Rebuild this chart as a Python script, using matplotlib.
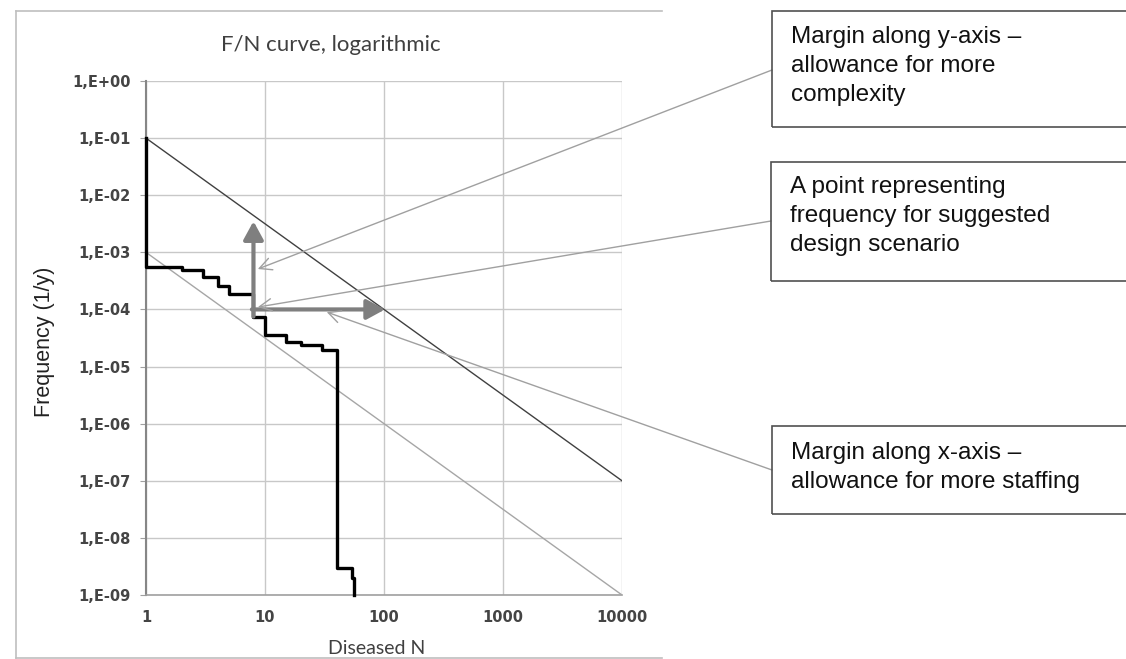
import matplotlib
matplotlib.use("Agg")
import matplotlib.pyplot as plt
from matplotlib.lines import Line2D
from matplotlib.patches import Rectangle
from matplotlib.ticker import FixedLocator, FixedFormatter, NullLocator

# step curve (F/N), drawn as steps-post
step_n = [1, 1, 2, 3, 4, 5, 8, 10, 15, 20, 30, 40, 53.5, 56]
step_f = [1e-1, 5.5e-4, 4.9e-4, 3.7e-4, 2.6e-4, 1.9e-4, 7.4e-5, 3.6e-5,
          2.7e-5, 2.4e-5, 1.95e-5, 3e-9, 2e-9, 1e-9]

# criteria lines
upper_n = [1, 10000]
upper_f = [1e-1, 1e-7]
lower_n = [1, 10000]
lower_f = [1e-3, 1e-9]

# design point and margin arrows
point_n, point_f = 8, 1e-4
arrow_y_from, arrow_y_to = 7.5e-5, 3.5e-3
arrow_x_to = 102

x_ticks = [1, 10, 100, 1000, 10000]
x_labels = ["1", "10", "100", "1000", "10000"]
y_ticks = [1e-9, 1e-8, 1e-7, 1e-6, 1e-5, 1e-4, 1e-3, 1e-2, 1e-1, 1e0]
y_labels = ["1,E-09", "1,E-08", "1,E-07", "1,E-06", "1,E-05",
            "1,E-04", "1,E-03", "1,E-02", "1,E-01", "1,E+00"]

notes = ["Margin along y-axis \u2013\nallowance for more\ncomplexity",
         "A point representing\nfrequency for suggested\ndesign scenario",
         "Margin along x-axis \u2013\nallowance for more staffing"]
note_targets = [(8.7, 5.1e-4), (8.7, 1.1e-4), (33, 9e-5)]

W, H = 1126, 659
fig = plt.figure(figsize=(W / 100, H / 100), dpi=100)

def fx(px):
    return px / W

def fy(py):
    return 1 - py / H

ax = fig.add_axes([fx(146), fy(595), fx(622) - fx(146), fy(81) - fy(595)])
ax.set_xscale("log")
ax.set_yscale("log")
ax.set_xlim(1, 10000)
ax.set_ylim(1e-9, 1)

ax.plot(upper_n, upper_f, color="#404040", lw=1.0, zorder=3)
ax.plot(lower_n, lower_f, color="#a6a6a6", lw=1.0, zorder=3)
ax.plot(step_n, step_f, drawstyle="steps-post", color="black", lw=2.4, zorder=4,
        clip_on=False)

arrow_style = dict(arrowstyle="-|>,head_length=0.55,head_width=0.3",
                   color="#7f7f7f", lw=3, mutation_scale=20,
                   shrinkA=0, shrinkB=0)
ax.annotate("", xy=(point_n, arrow_y_to), xytext=(point_n, arrow_y_from),
            arrowprops=arrow_style, zorder=5)
ax.annotate("", xy=(arrow_x_to, point_f), xytext=(point_n * 0.97, point_f),
            arrowprops=arrow_style, zorder=5)

ax.xaxis.set_major_locator(FixedLocator(x_ticks))
ax.xaxis.set_major_formatter(FixedFormatter(x_labels))
ax.yaxis.set_major_locator(FixedLocator(y_ticks))
ax.yaxis.set_major_formatter(FixedFormatter(y_labels))
ax.xaxis.set_minor_locator(NullLocator())
ax.yaxis.set_minor_locator(NullLocator())
ax.grid(True, color="#c8c8c8", lw=1.0)
ax.set_axisbelow(True)
for s in ["top", "right"]:
    ax.spines[s].set_visible(False)
ax.spines["left"].set_color("#868686")
ax.spines["left"].set_linewidth(1.5)
ax.spines["bottom"].set_color("#a0a0a0")
ax.spines["bottom"].set_linewidth(1.2)
ax.tick_params(axis="y", length=4, color="#a0a0a0", pad=7)
ax.tick_params(axis="x", length=0, pad=11)
for lab in ax.get_xticklabels() + ax.get_yticklabels():
    lab.set_family("DejaVu Sans")
    lab.set_fontweight("bold")
    lab.set_fontsize(10.5)
    lab.set_color("#444444")

fig.text(fx(331), fy(45), "F/N curve, logarithmic", family="Lato", fontsize=16,
         color="#404040", ha="center", va="center")
fig.text(fx(45), fy(342), "Frequency (1/y)", family="Liberation Sans",
         fontsize=15.5, color="#222222", ha="center", va="center", rotation=90)
fig.text(fx(377), fy(648), "Diseased N", family="Lato", fontsize=14,
         color="#404040", ha="center", va="center")

# outer chart frame (no right edge visible)
frame = dict(color="#bfbfbf", lw=1.2, transform=fig.transFigure)
fig.add_artist(Line2D([fx(16), fx(662)], [fy(11), fy(11)], **frame))
fig.add_artist(Line2D([fx(16), fx(16)], [fy(11), fy(658)], **frame))
fig.add_artist(Line2D([fx(16), fx(662)], [fy(658), fy(658)], **frame))

# note boxes
boxes = [(772, 11, 127), (771, 162, 281), (772, 426, 514)]
text_tops = [26, 176, 442]
leader_starts = [(772, 70), (771, 221), (772, 470)]
for (bx, top, bot), tt, note, (lx, ly), tgt in zip(boxes, text_tops, notes,
                                                   leader_starts, note_targets):
    fig.add_artist(Rectangle((fx(bx), fy(bot)), 1.05 - fx(bx), fy(top) - fy(bot),
                             transform=fig.transFigure, fill=False,
                             ec="#505050", lw=1.2))
    fig.text(fx(bx + 19), fy(tt), note, family="Liberation Sans", fontsize=17.5,
             color="#111111", ha="left", va="top", linespacing=1.4)
    ax.annotate("", xy=tgt, xycoords="data", xytext=(fx(lx), fy(ly)),
                textcoords="figure fraction", annotation_clip=False,
                arrowprops=dict(arrowstyle="->", color="#a0a0a0", lw=1.0,
                                mutation_scale=22, shrinkA=0, shrinkB=0),
                zorder=6)

fig.savefig("out.png", dpi=100)
